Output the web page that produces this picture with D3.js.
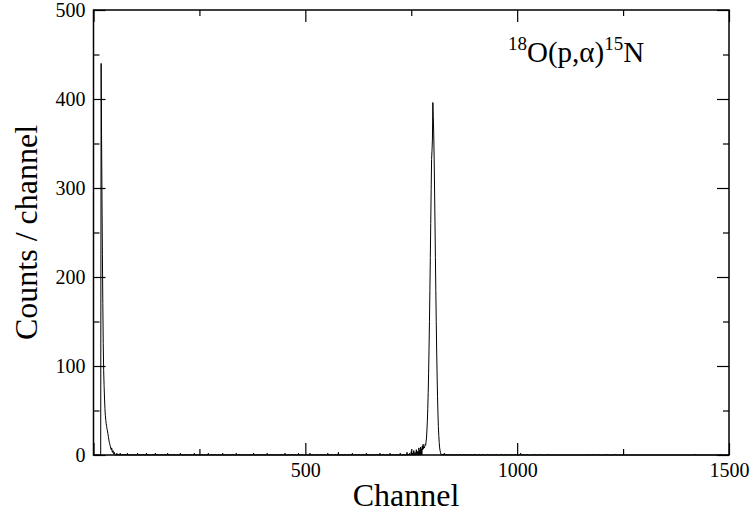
<!DOCTYPE html>
<html>
<head>
<meta charset="utf-8">
<script src="https://cdnjs.cloudflare.com/ajax/libs/d3/7.8.5/d3.min.js"></script>
<style>
  body { margin: 0; background: #fff; }
  svg { display: block; }
  text { font-family: "Liberation Serif", "Times New Roman", serif; fill: #000; }
</style>
</head>
<body>
<svg id="chart" width="753" height="512"></svg>
<script>
// spectrum values (channel -> counts), everything else is 0
var peak1Ch  = [18, 19, 20, 21, 22, 23, 24, 25, 26, 27, 28, 29, 30, 31, 32, 33, 34, 35, 36, 37, 38, 39, 40, 41, 42, 43, 44, 45, 46, 47, 48, 49, 50];
var peak1Cnt = [440, 360, 290, 225, 170, 125, 95, 78, 64, 52, 44, 39, 35, 32, 29, 27, 24, 21, 18, 15, 13, 11, 9, 7, 6, 8, 4, 3, 5, 2, 1, 3, 1];

var peak2Ch  = [740, 744, 746, 750, 753, 756, 759, 762, 765, 768, 770, 772, 774, 776, 777, 778, 779, 780, 781, 782, 783, 784, 785, 786, 787, 788, 789, 790,
                791, 792, 793, 794, 795, 796, 797, 798, 799, 800, 801, 802, 803, 804, 805, 806, 807, 808, 809, 810,
                811, 812, 813, 814, 815, 816, 817, 818, 819, 820];
var peak2Cnt = [3, 1, 2, 4, 2, 5, 3, 6, 4, 8, 5, 9, 7, 10, 6, 12, 7, 9, 8, 10, 12, 11, 15, 19, 28, 38, 52, 70,
                92, 120, 150, 185, 222, 260, 298, 332, 342, 355, 396, 380, 362, 335, 300, 262, 222, 185, 150, 118,
                90, 66, 47, 32, 22, 14, 8, 5, 3, 1];

var noiseCh  = [55, 58, 63, 70, 74, 80, 86, 95, 104, 110, 118, 125, 131, 140, 146, 152, 160, 168, 175, 183, 190, 198, 205, 214, 222, 230, 238, 245,
                256, 264, 271, 279, 288, 296, 305, 312, 320, 328, 337, 344, 352, 361, 369, 378, 386, 394, 402, 410, 418, 427, 435, 443, 452, 460, 468, 476, 484, 492,
                503, 511, 519, 528, 536, 545, 553, 561, 570, 578, 586, 594, 603, 611, 619, 627, 636, 644, 652, 660, 668, 676, 684, 692, 700, 708, 716, 724, 732,
                824, 828, 833, 840, 848, 857, 866, 874, 882, 891, 900, 910, 920, 930, 940, 951, 962, 973, 985, 996,
                1008, 1015, 1024, 1040, 1055, 1072, 1170, 1180, 1192, 1210, 1232, 1420, 1480];
var noiseCnt = [2, 1, 2, 1, 1, 2, 1, 1, 2, 1, 1, 2, 1, 1, 2, 1, 1, 1, 2, 1, 1, 1, 2, 1, 1, 1, 2, 1,
                1, 1, 2, 1, 1, 1, 2, 1, 1, 1, 2, 1, 1, 1, 1, 2, 1, 1, 1, 2, 1, 1, 1, 1, 2, 1, 1, 1, 2, 1,
                1, 2, 1, 1, 1, 1, 2, 1, 1, 3, 1, 1, 1, 2, 1, 1, 1, 2, 1, 1, 1, 2, 1, 1, 2, 1, 1, 2, 1,
                1, 2, 1, 1, 1, 1, 1, 1, 1, 1, 1, 1, 1, 1, 1, 1, 1, 1, 1, 1,
                2, 1, 1, 1, 1, 1, 1, 1, 1, 1, 1, 1, 1];

var xMajor = [0, 500, 1000, 1500];
var xMinor = [250, 750, 1250];
var yMajor = [0, 100, 200, 300, 400, 500];
var yMinor = [50, 150, 250, 350, 450];

var counts = new Array(1501).fill(0);
[[peak1Ch, peak1Cnt], [peak2Ch, peak2Cnt], [noiseCh, noiseCnt]].forEach(function(s) {
    s[0].forEach(function(c, i) { counts[c] = s[1][i]; });
});
var data = counts.map(function(v, i) { return { ch: i, n: v }; });

// plot box (note: "top" is taken by window.top, so use other names)
var boxL = 93.5, boxR = 729, boxT = 10, boxB = 455;

var svg = d3.select("#chart");
var x = d3.scaleLinear().domain([0, 1500]).range([boxL, boxR]);
var y = d3.scaleLinear().domain([0, 500]).range([boxB, boxT]);

// spectrum
svg.append("path")
    .datum(data)
    .attr("fill", "none")
    .attr("stroke", "#000")
    .attr("stroke-width", 1)
    .attr("d", d3.line().x(function(d) { return x(d.ch); }).y(function(d) { return y(d.n); }));

// ticks, all pointing inward
function ticks(axis, vals, size, tx, ty, labels) {
    var g = svg.append("g").attr("transform", "translate(" + tx + "," + ty + ")")
        .call(axis.tickValues(vals).tickSize(-size).tickPadding(8)
            .tickFormat(labels ? labels : function() { return ""; }));
    g.select(".domain").remove();
    g.selectAll("line").attr("stroke", "#000").attr("stroke-width", 1.2);
    g.selectAll("text").style("font-size", "20px").style("font-family", "Liberation Serif");
    return g;
}

ticks(d3.axisBottom(x), xMajor, 12, 0, boxB, function(d) { return d === 0 ? "" : d; });
ticks(d3.axisBottom(x), xMinor, 6, 0, boxB);
ticks(d3.axisTop(x), xMajor, 12, 0, boxT);
ticks(d3.axisTop(x), xMinor, 6, 0, boxT);
ticks(d3.axisLeft(y), yMajor, 12, boxL, 0, function(d) { return d; });
ticks(d3.axisLeft(y), yMinor, 6, boxL, 0);
ticks(d3.axisRight(y), yMajor, 12, boxR, 0);
ticks(d3.axisRight(y), yMinor, 6, boxR, 0);

// frame
svg.append("rect")
    .attr("x", boxL).attr("y", boxT)
    .attr("width", boxR - boxL).attr("height", boxB - boxT)
    .attr("fill", "none").attr("stroke", "#000").attr("stroke-width", 1.5);

svg.append("text")
    .attr("x", 406).attr("y", 506)
    .attr("text-anchor", "middle")
    .style("font-size", "32px")
    .text("Channel");

svg.append("text")
    .attr("transform", "translate(37," + ((boxT + boxB) / 2) + ") rotate(-90)")
    .attr("text-anchor", "middle")
    .style("font-size", "32px")
    .text("Counts / channel");

// reaction label
var title = svg.append("text").attr("x", 508).attr("y", 62).style("font-size", "29px");
title.append("tspan").attr("dy", -12).style("font-size", "19px").text("18");
title.append("tspan").attr("dy", 12).text("O(p,α)");
title.append("tspan").attr("dy", -12).style("font-size", "19px").text("15");
title.append("tspan").attr("dy", 12).text("N");
</script>
</body>
</html>
